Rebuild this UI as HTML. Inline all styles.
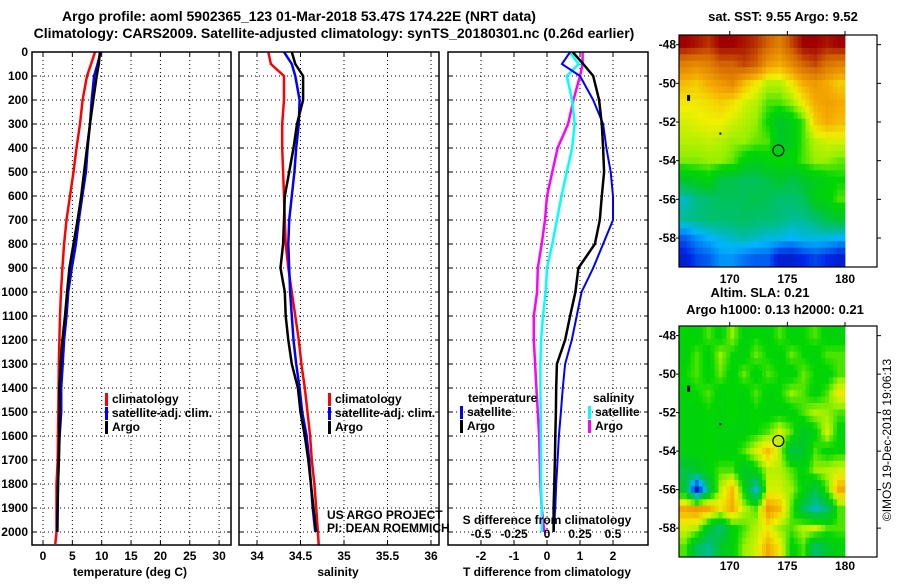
<!DOCTYPE html>
<html><head><meta charset="utf-8"><style>
body{margin:0;background:#fff;}
svg text{font-family:"Liberation Sans",sans-serif;}
.b{font-weight:bold;font-size:14px;}
.t{font-weight:bold;font-size:12px;}
</style></head><body>
<svg id="c" width="900" height="580" xmlns="http://www.w3.org/2000/svg">
<text class="b" x="299" y="21" text-anchor="middle">Argo profile: aoml 5902365_123 01-Mar-2018 53.47S 174.22E (NRT data)</text>
<text class="b" x="334" y="38" text-anchor="middle">Climatology: CARS2009. Satellite-adjusted climatology: synTS_20180301.nc (0.26d earlier)</text>
<text class="b" x="783" y="21" text-anchor="middle" style="font-size:13px">sat. SST: 9.55 Argo: 9.52</text>
<text class="b" x="760" y="297" text-anchor="middle" style="font-size:13px">Altim. SLA: 0.21</text>
<text class="b" x="775" y="314" text-anchor="middle" style="font-size:13px">Argo h1000: 0.13 h2000: 0.21</text>
<text x="891" y="440" font-size="12" transform="rotate(-90 891 440)" text-anchor="middle">©IMOS 19-Dec-2018 19:06:13</text>
<g id="g"></g>
</svg>
<script>
const depths=[0,50,100,200,300,400,500,600,700,800,900,1000,1100,1200,1300,1400,1500,1600,1700,1800,1900,2000];
const tempClim=[8.86,8.2,7.5,6.75,6.3,5.7,5.2,4.6,4.0,3.6,3.3,3.07,2.9,2.8,2.7,2.65,2.6,2.55,2.5,2.3,2.3,2.3];
const tempSat=[9.8,9.3,8.7,8.3,8.0,7.6,7.3,6.7,6.1,5.6,4.9,4.3,4.0,3.6,3.35,3.1,3.1,2.82,2.7,2.55,2.45,2.4];
const tempArgo=[9.7,9.5,9.15,8.57,8.0,7.5,7.0,6.5,5.9,5.2,4.5,4.1,3.75,3.3,3.0,2.8,2.85,2.78,2.7,2.55,2.5,2.45];
const salClim=[34.13,34.16,34.31,34.31,34.29,34.29,34.30,34.31,34.32,34.33,34.36,34.40,34.44,34.48,34.51,34.55,34.58,34.61,34.63,34.66,34.68,34.70];
const salSat=[34.31,34.40,34.44,34.49,34.48,34.45,34.43,34.40,34.37,34.36,34.37,34.38,34.40,34.42,34.45,34.49,34.52,34.57,34.60,34.62,34.64,34.67];
const salArgo=[34.40,34.44,34.53,34.53,34.46,34.42,34.37,34.32,34.31,34.30,34.27,34.32,34.33,34.36,34.40,34.47,34.50,34.55,34.59,34.62,34.65,34.68];
const dTsat=[0.7,0.45,1.0,1.4,1.7,1.8,1.93,2.0,2.0,1.7,1.4,1.05,0.9,0.75,0.55,0.48,0.42,0.36,0.32,0.28,0.25,0.2];
const dTargo=[0.78,1.1,1.4,1.58,1.66,1.7,1.73,1.66,1.6,1.45,0.95,0.86,0.7,0.55,0.3,0.28,0.27,0.25,0.24,0.22,0.2,0.2];
const dSsat=[0.17,0.24,0.15,0.19,0.21,0.19,0.15,0.11,0.075,0.04,0.0,-0.01,-0.03,-0.045,-0.05,-0.05,-0.048,-0.046,-0.045,-0.045,-0.04,-0.04];
const dSargo=[0.27,0.27,0.25,0.2,0.16,0.08,0.04,0.0,-0.015,-0.04,-0.07,-0.075,-0.1,-0.1,-0.09,-0.08,-0.07,-0.06,-0.055,-0.05,-0.04,-0.02];
const yTicks=[0,100,200,300,400,500,600,700,800,900,1000,1100,1200,1300,1400,1500,1600,1700,1800,1900,2000];
const tTicks=[0,5,10,15,20,25,30];
const sTicks=[34,34.5,35,35.5,36];
const dtTicks=[-2,-1,0,1,2];
const dsTicks=[-0.5,-0.25,0,0.25,0.5];
const dsLabels=["-0.5","-0.25","0","0.25","0.5"];
const lonTicks=[170,175,180];
const latTicks=[-48,-50,-52,-54,-56,-58];
const argoLon=174.22, argoLat=-53.47;
const sstGrid=[
[.95,.93,.9,.95,.95,.93,.9,.85,.8,.88,.95,.95,.93,.95],
[.8,.78,.8,.85,.85,.88,.85,.75,.72,.78,.85,.88,.82,.8],
[.7,.68,.72,.75,.78,.7,.65,.6,.6,.65,.72,.75,.72,.68],
[.65,.65,.66,.68,.66,.62,.6,.55,.55,.58,.65,.72,.74,.72],
[.62,.63,.64,.64,.62,.6,.58,.52,.45,.48,.55,.68,.72,.7],
[.6,.6,.61,.6,.58,.58,.56,.55,.45,.48,.55,.6,.62,.62],
[.57,.57,.58,.58,.56,.5,.48,.5,.52,.5,.55,.58,.58,.56],
[.45,.48,.5,.42,.42,.4,.4,.42,.45,.42,.45,.48,.5,.52],
[.32,.36,.38,.4,.4,.4,.42,.4,.38,.38,.4,.48,.5,.55],
[.35,.36,.38,.38,.38,.4,.38,.38,.37,.35,.35,.38,.42,.45],
[.2,.25,.28,.3,.32,.33,.32,.3,.3,.28,.3,.3,.3,.28],
[.12,.18,.2,.25,.25,.22,.2,.2,.12,.12,.15,.18,.15,.12]];
const slaGrid=[
[.52,.5,.55,.5,.58,.5,.52,.5,.55,.5,.52,.55,.5,.5],
[.5,.55,.5,.58,.52,.5,.56,.52,.5,.56,.52,.5,.55,.55],
[.52,.55,.5,.56,.5,.56,.5,.55,.52,.5,.56,.52,.5,.55],
[.5,.52,.55,.5,.52,.5,.55,.5,.52,.58,.55,.5,.55,.65],
[.5,.5,.52,.5,.52,.5,.52,.5,.5,.5,.55,.6,.58,.55],
[.5,.5,.52,.5,.5,.5,.52,.55,.62,.55,.45,.5,.62,.5],
[.5,.5,.52,.5,.5,.55,.62,.7,.6,.42,.45,.55,.5,.52],
[.42,.45,.5,.55,.55,.45,.5,.6,.6,.55,.5,.58,.6,.62],
[.45,.1,.4,.6,.7,.5,.3,.62,.62,.58,.5,.42,.55,.72],
[.72,.75,.72,.65,.72,.6,.55,.75,.7,.55,.4,.32,.38,.55],
[.62,.6,.45,.38,.5,.55,.6,.65,.58,.55,.6,.62,.55,.55],
[.55,.4,.35,.45,.5,.58,.62,.72,.65,.5,.55,.38,.45,.5]];

const NS="http://www.w3.org/2000/svg";
const G=document.getElementById('g');
function el(tag,attrs,parent){const e=document.createElementNS(NS,tag);for(const k in attrs)e.setAttribute(k,attrs[k]);(parent||G).appendChild(e);return e;}
function txt(x,y,s,cls,anchor,parent){const e=el('text',{x:x,y:y,'class':cls||'t','text-anchor':anchor||'middle'},parent);e.textContent=s;return e;}
const Y=d=>52+d*0.24;
const PT=v=>43+v*5.87, PS=v=>257+(v-34)*87, PDT=v=>547+v*33, PDS=v=>547+v*132;
const panels=[{x0:32,x1:231,name:'temperature-panel'},{x0:239,x1:439,name:'salinity-panel'},{x0:448,x1:648,name:'difference-panel'}];
const TOP=52,BOT=545;
panels.forEach((p,i)=>{
  const g=el('g',{});
  
  
  p.g=g;
  const cp=el('clipPath',{id:'cp'+i},g);el('rect',{x:p.x0,y:TOP,width:p.x1-p.x0,height:BOT-TOP},cp);
  yTicks.forEach(d=>{el('line',{x1:p.x0,x2:p.x1,y1:Y(d),y2:Y(d),stroke:'#000','stroke-width':1,'stroke-dasharray':'1,3'},g);
    el('line',{x1:p.x0,x2:p.x0+4,y1:Y(d),y2:Y(d),stroke:'#000'},g);el('line',{x1:p.x1-4,x2:p.x1,y1:Y(d),y2:Y(d),stroke:'#000'},g);});
});
yTicks.forEach(d=>{const t=txt(28,Y(d)+4,String(d),'t','end');

});
function vgrid(p,ticks,fx){ticks.forEach(v=>{const x=fx(v);el('line',{x1:x,x2:x,y1:TOP,y2:BOT,stroke:'#000','stroke-dasharray':'1,3'},p.g);
 el('line',{x1:x,x2:x,y1:BOT-4,y2:BOT,stroke:'#000'},p.g);el('line',{x1:x,x2:x,y1:TOP,y2:TOP+4,stroke:'#000'},p.g);});}
vgrid(panels[0],tTicks,PT);vgrid(panels[1],sTicks,PS);vgrid(panels[2],dtTicks,PDT);
tTicks.forEach(v=>{const t=txt(PT(v),560,String(v));});
sTicks.forEach(v=>{const t=txt(PS(v),560,String(v));});
dtTicks.forEach(v=>{const t=txt(PDT(v),560,String(v));});
dsTicks.forEach((v,i)=>{const t=txt(PDS(v),538,dsLabels[i]);});
let t;
t=txt(130,576,'temperature (deg C)');
t=txt(338,576,'salinity');
t=txt(547,576,'T difference from climatology');
t=txt(547,524,'S difference from climatology');

function series(p,i,vals,fx,color,name,w,extra){
  let pts=[];vals.forEach((v,k)=>{pts.push(fx(v).toFixed(1)+','+Y(depths[k]).toFixed(1));});
  if(extra)pts.push(fx(extra[1]).toFixed(1)+','+Y(extra[0]).toFixed(1));
  const pl=el('polyline',{points:pts.join(' '),fill:'none',stroke:color,'stroke-width':w||2.5,'clip-path':'url(#cp'+i+')'},p.g);
  
  
}
series(panels[0],0,tempClim,PT,'#ff0000','temp-climatology-line',2.5,[2050,2.1]);
series(panels[0],0,tempSat,PT,'#0000ff','temp-satellite-line');
series(panels[0],0,tempArgo,PT,'#000','temp-argo-line');
series(panels[1],1,salClim,PS,'#ff0000','sal-climatology-line',2.5,[2060,34.71]);
series(panels[1],1,salSat,PS,'#0000ff','sal-satellite-line');
series(panels[1],1,salArgo,PS,'#000','sal-argo-line');
series(panels[2],2,dSargo,PDS,'#ff00ff','ds-argo-line');
series(panels[2],2,dSsat,PDS,'#00ffff','ds-satellite-line');
series(panels[2],2,dTsat,PDT,'#0000ff','dt-satellite-line',2);
series(panels[2],2,dTargo,PDT,'#000','dt-argo-line');
panels.forEach(p=>{el('rect',{x:p.x0,y:TOP,width:p.x1-p.x0,height:BOT-TOP,fill:'none',stroke:'#000','stroke-width':1.5},p.g);});

function legend(x,y,items,name){const g=el('g',{});
 items.forEach((it,k)=>{const yy=y+k*14;el('rect',{x:x,y:yy-10,width:3,height:13,fill:it[1]},g);txt(x+7,yy,it[0],'t','start',g);});}
legend(105,403,[['climatology','#ff0000'],['satellite-adj. clim.','#0000ff'],['Argo','#000']],'temp-legend');
legend(328,403,[['climatology','#ff0000'],['satellite-adj. clim.','#0000ff'],['Argo','#000']],'sal-legend');
t=txt(468,402,'temperature','t','start');
legend(460,416,[['satellite','#0000ff'],['Argo','#000']],'dt-legend');
t=txt(593,402,'salinity','t','start');
legend(588,416,[['satellite','#00ffff'],['Argo','#ff00ff']],'ds-legend');
t=txt(327,519,'US ARGO PROJECT','','start');t.setAttribute('font-size','12');
t=txt(327,532,'PI: DEAN ROEMMICH','','start');t.setAttribute('font-size','12');

const stops=[[0,[0,0,130]],[0.15,[0,40,230]],[0.28,[0,180,255]],[0.36,[0,190,130]],[0.45,[0,200,40]],[0.52,[0,215,0]],[0.58,[150,240,0]],[0.64,[240,240,0]],[0.72,[245,170,0]],[0.85,[210,100,0]],[0.95,[160,0,0]],[1,[140,0,0]]];
function cmap(v){for(let i=1;i<stops.length;i++){if(v<=stops[i][0]){const a=stops[i-1],b=stops[i];const f=(v-a[0])/(b[0]-a[0]);const c=a[1].map((q,j)=>Math.round(q+(b[1][j]-q)*f));return 'rgb('+c.join(',')+')';}}return 'rgb(140,0,0)';}
function drawMap(top,bot,grid,name,labY){
 const L=679,R=845,BR=877,lon0=165.6,lat0=-47.5,lat1=-59.5;
 const X=lon=>L+(lon-lon0)*(R-L)/(180-lon0);
 const YY=lat=>top+(lat-lat0)*(bot-top)/(lat1-lat0);
 const g=el('g',{});
 const rows=grid.length,cols=grid[0].length,cw=(R-L)/cols,rh=(bot-top)/rows;
 const sub=3;
 for(let r=0;r<rows*sub;r++)for(let c=0;c<cols*sub;c++){
  const fr=Math.min(rows-1,Math.max(0,(r+0.5)/sub-0.5)),fc=Math.min(cols-1,Math.max(0,(c+0.5)/sub-0.5));
  const r0=Math.floor(fr),c0=Math.floor(fc),r1=Math.min(rows-1,r0+1),c1=Math.min(cols-1,c0+1),a=fr-r0,b=fc-c0;
  const v=grid[r0][c0]*(1-a)*(1-b)+grid[r0][c1]*(1-a)*b+grid[r1][c0]*a*(1-b)+grid[r1][c1]*a*b;
  el('rect',{x:(L+c*cw/sub).toFixed(2),y:(top+r*rh/sub).toFixed(2),width:(cw/sub+0.4).toFixed(2),height:(rh/sub+0.4).toFixed(2),fill:cmap(v)},g);}
 el('rect',{x:L,y:top,width:BR-L,height:bot-top,fill:'none',stroke:'#000','stroke-width':1.2},g);
 lonTicks.forEach(l=>{el('line',{x1:X(l),x2:X(l),y1:top,y2:top-4,stroke:'#000'},g);txt(X(l),labY,String(l),'t','middle',g);});
 latTicks.forEach(l=>{el('line',{x1:BR,x2:BR+4,y1:YY(l),y2:YY(l),stroke:'#000'},g);el('line',{x1:L,x2:L-3,y1:YY(l),y2:YY(l),stroke:'#000'},g);txt(676,YY(l)+4,String(l),'t','end',g);});
 const cc=el('circle',{cx:X(argoLon),cy:YY(argoLat),r:5.5,fill:'none',stroke:'#000','stroke-width':1.2},g);
 
 
 el('rect',{x:X(166.3),y:YY(-50.6),width:3,height:6,fill:'#000'},g);
 el('rect',{x:X(169.1),y:YY(-52.55),width:2,height:2,fill:'#000'},g);
}
drawMap(35,267,sstGrid,'sst-map',283);
drawMap(326,557,slaGrid,'sla-map',570);
</script>
</body></html>
